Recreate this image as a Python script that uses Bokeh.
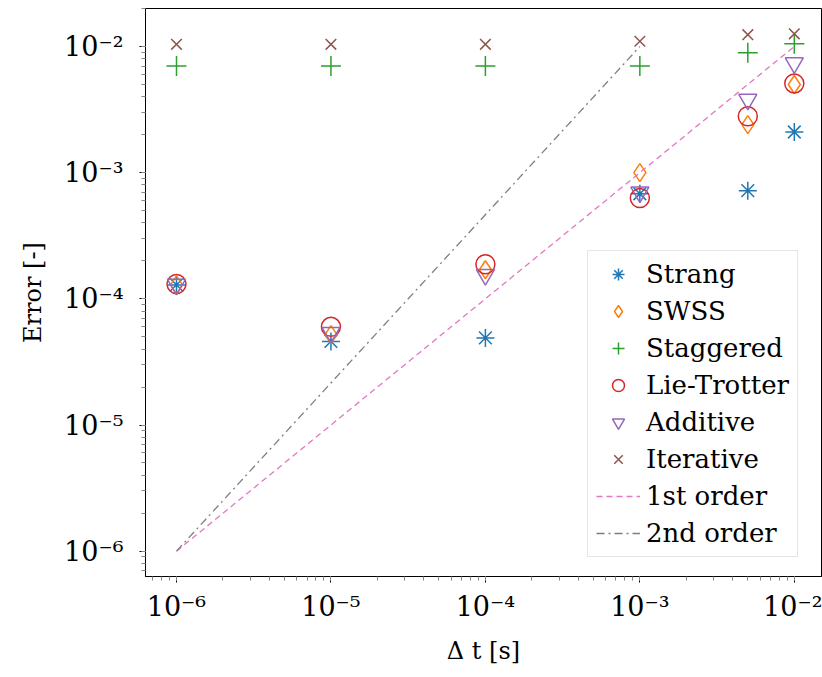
from bokeh.plotting import figure
from bokeh.models import Legend, LegendItem, Range1d
from bokeh.embed import file_html
from bokeh.resources import INLINE

dt = [1e-6, 1e-5, 1e-4, 1e-3, 5e-3, 1e-2]
strang = [1.29e-4, 4.6e-5, 4.9e-5, 6.8e-4, 7.2e-4, 2.1e-3]
swss = [1.29e-4, 5.2e-5, 1.7e-4, 1.0e-3, 2.4e-3, 5.0e-3]
staggered = [7.0e-3, 7.0e-3, 7.0e-3, 7.0e-3, 8.9e-3, 1.05e-2]
lie_trotter = [1.31e-4, 6.0e-5, 1.88e-4, 6.3e-4, 2.8e-3, 5.1e-3]
additive = [1.3e-4, 5.4e-5, 1.55e-4, 7.0e-4, 3.8e-3, 7.4e-3]
iterative = [1.04e-2, 1.04e-2, 1.04e-2, 1.1e-2, 1.24e-2, 1.26e-2]
first_x = [1e-6, 1e-2]
first_y = [1e-6, 1e-2]
second_x = [1e-6, 1e-3]
second_y = [1e-6, 1e-2]
x_ticks = [1e-6, 1e-5, 1e-4, 1e-3, 1e-2]
x_tick_labels = ["10⁻⁶", "10⁻⁵", "10⁻⁴", "10⁻³", "10⁻²"]
y_ticks = [1e-6, 1e-5, 1e-4, 1e-3, 1e-2]
y_tick_labels = ["10⁻⁶", "10⁻⁵", "10⁻⁴", "10⁻³", "10⁻²"]

FONT = "DejaVu Serif"

p = figure(width=822, height=677, x_axis_type="log", y_axis_type="log",
           output_backend="svg", toolbar_location=None,
           x_range=Range1d(6.3e-7, 1.5e-2), y_range=Range1d(6.3e-7, 2.0e-2))
p.min_border_left = 145
p.min_border_right = 1
p.min_border_top = 8
p.min_border_bottom = 101
p.outline_line_color = "black"
p.outline_line_width = 1
p.xgrid.visible = False
p.ygrid.visible = False
p.background_fill_color = "white"
p.border_fill_color = "white"

for ax, ticks, labels in ((p.xaxis[0], x_ticks, x_tick_labels), (p.yaxis[0], y_ticks, y_tick_labels)):
    ax.ticker.num_minor_ticks = 10
    ax.major_label_overrides = {t: l for t, l in zip(ticks, labels)}
    ax.major_label_text_font = FONT
    ax.major_label_text_font_size = "27px"
    ax.major_label_text_color = "black"
    ax.axis_label_text_font = FONT
    ax.axis_label_text_font_size = "24px"
    ax.axis_label_text_font_style = "normal"
    ax.axis_label_text_color = "black"
    ax.major_tick_in = 0
    ax.major_tick_out = 6
    ax.minor_tick_in = 0
    ax.minor_tick_out = 4
    ax.minor_tick_line_color = "#888888"
    ax.axis_line_color = "black"

p.xaxis.axis_label = "Δ t [s]"
p.yaxis.axis_label = "Error [-]"
p.xaxis.major_label_standoff = 8
p.yaxis.major_label_standoff = 16
p.xaxis.axis_label_standoff = 12
p.yaxis.axis_label_standoff = 14

kw = dict(size=18, line_width=1.5, fill_color=None)
r1 = p.scatter(dt, strang, marker="asterisk", line_color="#1f77b4", **kw)
r2 = p.scatter(dt, swss, marker="diamond", line_color="#ff7f0e", **kw)
r3 = p.scatter(dt, staggered, marker="cross", line_color="#2ca02c", size=20, line_width=1.5)
r4 = p.scatter(dt, lie_trotter, marker="circle", line_color="#d62728", size=19, line_width=1.5, fill_color=None)
r5 = p.scatter(dt, additive, marker="inverted_triangle", line_color="#9467bd", **kw)
r6 = p.scatter(dt, iterative, marker="x", line_color="#8c564b", size=15, line_width=1.5)
r7 = p.line(first_x, first_y, line_color="#e377c2", line_width=1.3, line_dash="6 4")
r8 = p.line(second_x, second_y, line_color="#7f7f7f", line_width=1.3, line_dash="8 4 2 4")

legend = Legend(items=[
    LegendItem(label="Strang", renderers=[r1]),
    LegendItem(label="SWSS", renderers=[r2]),
    LegendItem(label="Staggered", renderers=[r3]),
    LegendItem(label="Lie-Trotter", renderers=[r4]),
    LegendItem(label="Additive", renderers=[r5]),
    LegendItem(label="Iterative", renderers=[r6]),
    LegendItem(label="1st order", renderers=[r7]),
    LegendItem(label="2nd order", renderers=[r8]),
], location=(442, 19))
legend.label_text_font = FONT
legend.label_text_font_size = "26px"
legend.label_text_color = "black"
legend.label_height = 30
legend.glyph_height = 30
legend.glyph_width = 44
legend.spacing = 7
legend.padding = 8
legend.margin = 0
legend.label_standoff = 6
legend.border_line_color = "#cccccc"
legend.border_line_width = 1
legend.background_fill_alpha = 1
p.add_layout(legend, "center")

open("out.html", "w").write(file_html(p, INLINE))
